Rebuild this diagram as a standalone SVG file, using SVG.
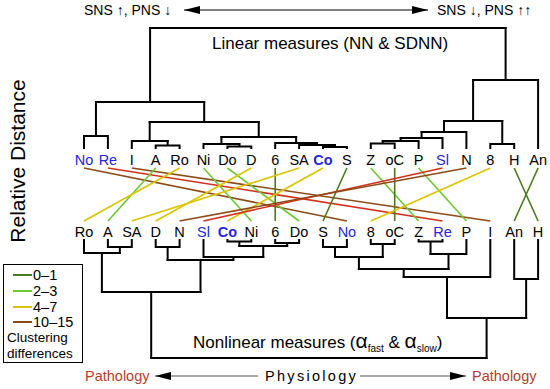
<svg xmlns="http://www.w3.org/2000/svg" width="550" height="389" viewBox="0 0 550 389">
<defs>
<style>
text{font-family:"Liberation Sans",Arial,sans-serif;fill:#000}
.lbl{font-size:14.5px;text-anchor:middle}
.blue{fill:#2626d9}
.bold{font-weight:bold}
.tree{fill:none;stroke:#000;stroke-width:2;stroke-linejoin:miter;stroke-linecap:square}
.cn{stroke-width:1.6;fill:none}
.g0{stroke:#4b7a1c}
.g2{stroke:#6cc832}
.g4{stroke:#dcc400}
.g10{stroke:#8c4a16}
.red{stroke:#d2301c}
.leg{font-size:14.5px}
.cap{font-size:13.5px}
.path{fill:#b4402a;font-size:14.5px}
</style>
<marker id="ah" viewBox="0 0 16 8" refX="16" refY="4" markerWidth="16" markerHeight="8" markerUnits="userSpaceOnUse" orient="auto-start-reverse">
<path d="M0,0 L16,4 L0,8 z" fill="#000"/>
</marker>
</defs>
<rect width="550" height="389" fill="#fff"/>

<!-- top axis -->
<g id="top-axis">
<text x="84" y="15" style="font-size:14px">SNS ↑, PNS ↓</text>
<line x1="184" y1="10" x2="428" y2="10" stroke="#000" stroke-width="1" marker-start="url(#ah)" marker-end="url(#ah)"/>
<text x="437" y="15" style="font-size:14px">SNS ↓, PNS ↑↑</text>
</g>

<text x="25" y="161" transform="rotate(-90 25 161)" style="font-size:21px;text-anchor:middle">Relative Distance</text>
<text x="212" y="49" style="font-size:17px">Linear measures (NN &amp; SDNN)</text>

<!-- top dendrogram -->
<g id="top-tree" class="tree">
<path d="M84,148 V136 H107.9 V148 M95.95,136 V102"/>
<path d="M155.7,148 V145.5 H179.6 V148 M167.65,145.5 V141"/>
<path d="M131.8,148 V141 H167.65 M149.7,141 V122"/>
<path d="M227.4,148 V146.5 H251.3 V148 M239.35,146.5 V144"/>
<path d="M203.5,148 V144 H239.35 M221.4,144 V137"/>
<path d="M323,148 V147 H346.9 V148 M335,147 V145"/>
<path d="M299.1,148 V145 H335 M317,145 V143"/>
<path d="M275.2,148 V143 H317 M296.1,143 V137"/>
<path d="M221.4,137 H296.1 M258.75,137 V122"/>
<path d="M149.7,122 H258.75 M204.2,122 V102"/>
<path d="M95.95,102 H204.2 M150.1,102 V28"/>
<path d="M370.8,148 V143.5 H394.7 V148 M382.75,143.5 V141"/>
<path d="M418.6,148 V141 H382.75 M400.7,141 V138"/>
<path d="M442.5,148 V138 H400.7 M421.6,138 V132"/>
<path d="M466.4,148 V132 H421.6 M444,132 V121"/>
<path d="M490.3,148 V144 H514.2 V148 M502.25,144 V121"/>
<path d="M444,121 H502.25 M473.1,121 V80"/>
<path d="M538.1,148 V80 H473.1 M505.6,80 V28"/>
<path d="M150.1,28 H505.6"/>
</g>

<!-- bottom dendrogram -->
<g id="bottom-tree" class="tree">
<path d="M84,240 V253 H120"/>
<path d="M107.9,240 V247 H131.8 V240 M119.85,247 V253"/>
<path d="M101.9,253 V292"/>
<path d="M155.7,240 V247 H179.6 V240 M167.65,247 V260"/>
<path d="M203.5,240 V257 H263.25"/>
<path d="M227.4,240 V241.5 H251.3 V240 M239.35,241.5 V246"/>
<path d="M275.2,240 V243 H299.1 V240 M287.15,243 V246"/>
<path d="M239.35,246 H287.15 M263.25,246 V257"/>
<path d="M233.4,257 V260 M167.65,260 H233.4 M200.5,260 V292"/>
<path d="M101.9,292 H200.5 M151.2,292 V358"/>
<path d="M323,240 V247 H346.9 V240 M335,247 V257"/>
<path d="M370.8,240 V244 H394.7 V240 M382.75,244 V257"/>
<path d="M335,257 H382.75 M358.9,257 V269"/>
<path d="M418.6,240 V241.5 H442.5 V240 M430.55,241.5 V254"/>
<path d="M466.4,240 V254 H430.55 M448.5,254 V269"/>
<path d="M358.9,269 H448.5 M403.7,269 V277"/>
<path d="M490.3,240 V277 H403.7 M447,277 V318"/>
<path d="M514.2,240 V279 H538.1 V240 M526.15,279 V318"/>
<path d="M447,318 H526.15 M486.6,318 V358"/>
<path d="M151.2,358 H486.6"/>
</g>

<!-- tanglegram connectors -->
<g id="connectors" class="cn">
<line class="g10" x1="84" y1="168" x2="346.9" y2="221"/>
<line class="red" x1="107.9" y1="168" x2="442.5" y2="221"/>
<line class="g10" x1="131.8" y1="168" x2="490.3" y2="221"/>
<line class="g2" x1="155.7" y1="168" x2="107.9" y2="221"/>
<line class="g4" x1="179.6" y1="168" x2="84" y2="221"/>
<line class="g2" x1="203.5" y1="168" x2="251.3" y2="221"/>
<line class="g2" x1="227.4" y1="168" x2="299.1" y2="221"/>
<line class="g4" x1="251.3" y1="168" x2="155.7" y2="221"/>
<line class="g0" x1="275.2" y1="168" x2="275.2" y2="221"/>
<line class="g4" x1="299.1" y1="168" x2="131.8" y2="221"/>
<line class="g4" x1="323" y1="168" x2="227.4" y2="221"/>
<line class="g0" x1="346.9" y1="168" x2="323" y2="221"/>
<line class="g2" x1="370.8" y1="168" x2="418.6" y2="221"/>
<line class="g0" x1="394.7" y1="168" x2="394.7" y2="221"/>
<line class="g2" x1="418.6" y1="168" x2="466.4" y2="221"/>
<line class="red" x1="442.5" y1="168" x2="203.5" y2="221"/>
<line class="g10" x1="466.4" y1="168" x2="179.6" y2="221"/>
<line class="g4" x1="490.3" y1="168" x2="370.8" y2="221"/>
<line class="g0" x1="514.2" y1="168" x2="538.1" y2="221"/>
<line class="g0" x1="538.1" y1="168" x2="514.2" y2="221"/>
</g>

<!-- top row labels -->
<g id="t-No"><text class="lbl blue" x="84" y="165">No</text></g>
<g id="t-Re"><text class="lbl blue" x="107.9" y="165">Re</text></g>
<g id="t-I"><text class="lbl" x="131.8" y="165">I</text></g>
<g id="t-A"><text class="lbl" x="155.7" y="165">A</text></g>
<g id="t-Ro"><text class="lbl" x="179.6" y="165">Ro</text></g>
<g id="t-Ni"><text class="lbl" x="203.5" y="165">Ni</text></g>
<g id="t-Do"><text class="lbl" x="227.4" y="165">Do</text></g>
<g id="t-D"><text class="lbl" x="251.3" y="165">D</text></g>
<g id="t-6"><text class="lbl" x="275.2" y="165">6</text></g>
<g id="t-SA"><text class="lbl" x="299.1" y="165">SA</text></g>
<g id="t-Co"><text class="lbl blue bold" x="323" y="165">Co</text></g>
<g id="t-S"><text class="lbl" x="346.9" y="165">S</text></g>
<g id="t-Z"><text class="lbl" x="370.8" y="165">Z</text></g>
<g id="t-oC"><text class="lbl" x="394.7" y="165">oC</text></g>
<g id="t-P"><text class="lbl" x="418.6" y="165">P</text></g>
<g id="t-Sl"><text class="lbl blue" x="442.5" y="165">Sl</text></g>
<g id="t-N"><text class="lbl" x="466.4" y="165">N</text></g>
<g id="t-8"><text class="lbl" x="490.3" y="165">8</text></g>
<g id="t-H"><text class="lbl" x="514.2" y="165">H</text></g>
<g id="t-An"><text class="lbl" x="538.1" y="165">An</text></g>

<!-- bottom row labels -->
<g id="b-Ro"><text class="lbl" x="84" y="237">Ro</text></g>
<g id="b-A"><text class="lbl" x="107.9" y="237">A</text></g>
<g id="b-SA"><text class="lbl" x="131.8" y="237">SA</text></g>
<g id="b-D"><text class="lbl" x="155.7" y="237">D</text></g>
<g id="b-N"><text class="lbl" x="179.6" y="237">N</text></g>
<g id="b-Sl"><text class="lbl blue" x="203.5" y="237">Sl</text></g>
<g id="b-Co"><text class="lbl blue bold" x="227.4" y="237">Co</text></g>
<g id="b-Ni"><text class="lbl" x="251.3" y="237">Ni</text></g>
<g id="b-6"><text class="lbl" x="275.2" y="237">6</text></g>
<g id="b-Do"><text class="lbl" x="299.1" y="237">Do</text></g>
<g id="b-S"><text class="lbl" x="323" y="237">S</text></g>
<g id="b-No"><text class="lbl blue" x="346.9" y="237">No</text></g>
<g id="b-8"><text class="lbl" x="370.8" y="237">8</text></g>
<g id="b-oC"><text class="lbl" x="394.7" y="237">oC</text></g>
<g id="b-Z"><text class="lbl" x="418.6" y="237">Z</text></g>
<g id="b-Re"><text class="lbl blue" x="442.5" y="237">Re</text></g>
<g id="b-P"><text class="lbl" x="466.4" y="237">P</text></g>
<g id="b-I"><text class="lbl" x="490.3" y="237">I</text></g>
<g id="b-An"><text class="lbl" x="514.2" y="237">An</text></g>
<g id="b-H"><text class="lbl" x="538.1" y="237">H</text></g>

<text x="193" y="348" style="font-size:17px">Nonlinear measures (<tspan style="font-size:21px">α</tspan><tspan style="font-size:10px" dy="4">fast</tspan><tspan dy="-4"> &amp; </tspan><tspan style="font-size:21px">α</tspan><tspan style="font-size:10px" dy="4">slow</tspan><tspan dy="-4">)</tspan></text>

<!-- legend -->
<g id="legend">
<rect x="3.5" y="264.5" width="79" height="98" fill="#fff" stroke="#000" stroke-width="1"/>
<line class="g0" x1="13" y1="275" x2="32" y2="275" stroke-width="2"/>
<line class="g2" x1="13" y1="291" x2="32" y2="291" stroke-width="2"/>
<line class="g4" x1="13" y1="307" x2="32" y2="307" stroke-width="2"/>
<line class="g10" x1="13" y1="322" x2="32" y2="322" stroke-width="2"/>
<text class="leg" x="33" y="280">0–1</text>
<text class="leg" x="33" y="296">2–3</text>
<text class="leg" x="33" y="312">4–7</text>
<text class="leg" x="33" y="327">10–15</text>
<text class="cap" x="7" y="341.5">Clustering</text>
<text class="cap" x="7" y="357.5">differences</text>
</g>

<!-- bottom axis -->
<g id="bottom-axis">
<text class="path" x="85" y="381">Pathology</text>
<line x1="155" y1="376" x2="258" y2="376" stroke="#555" stroke-width="1" marker-start="url(#ah)"/>
<text x="265" y="381" style="font-size:14.5px;letter-spacing:2.3px">Physiology</text>
<line x1="360" y1="376" x2="466" y2="376" stroke="#555" stroke-width="1" marker-end="url(#ah)"/>
<text class="path" x="472" y="381">Pathology</text>
</g>
</svg>
